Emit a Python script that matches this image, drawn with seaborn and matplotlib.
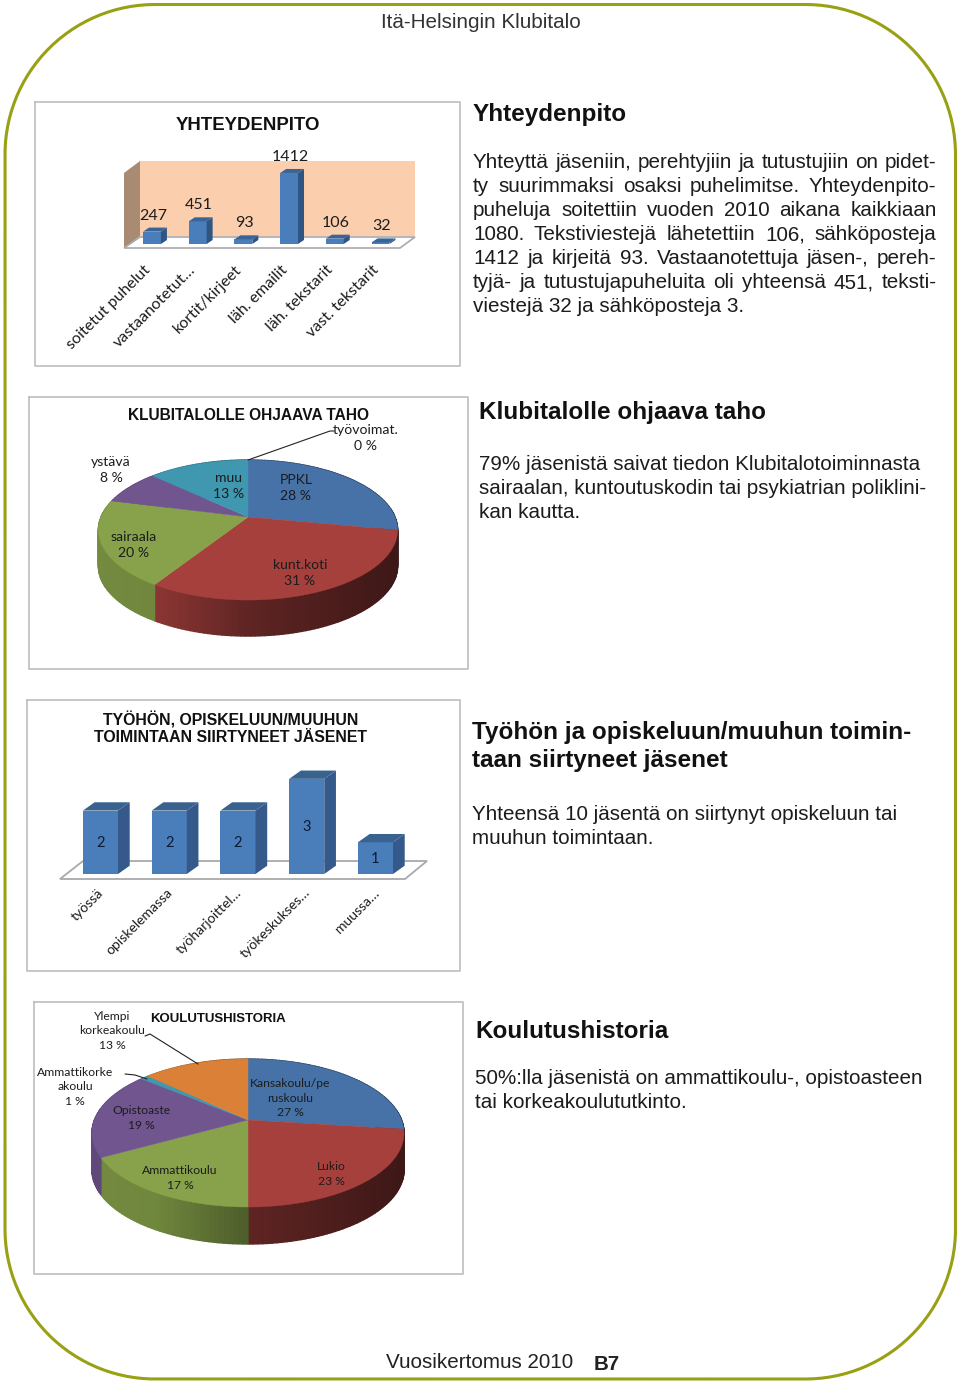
import numpy as np
import pandas as pd
import seaborn as sns
import matplotlib
matplotlib.use('Agg')
import matplotlib.pyplot as plt
from matplotlib.transforms import ScaledTranslation

# Data read from the page
contact_cats = ['soitetut puhelut', 'vastaanotetut…', 'kortit/kirjeet', 'läh. emailit', 'läh. tekstarit', 'vast. tekstarit']
contact_vals = [247, 451, 93, 1412, 106, 32]

moved_cats = ['työssä', 'opiskelemassa', 'työharjoittel…', 'työkeskukses…', 'muussa…']
moved_vals = [2, 2, 2, 3, 1]

referral_labels = ['PPKL', 'kunt.koti', 'sairaala', 'ystävä', 'muu', 'työvoimat.']
referral_pct = [28, 31, 20, 8, 13, 0]

school_labels = ['Kansakoulu/pe\nruskoulu', 'Lukio', 'Ammattikoulu', 'Opistoaste', 'Ammattikorke\nakoulu', 'Ylempi\nkorkeakoulu']
school_pct = [27, 23, 17, 19, 1, 13]

contact_text = ['Yhteyttä jäseniin, perehtyjiin ja tutustujiin on pidet-',
                'ty suurimmaksi osaksi puhelimitse. Yhteydenpito-',
                'puheluja soitettiin vuoden 2010 aikana kaikkiaan',
                '1080. Tekstiviestejä lähetettiin 106, sähköposteja',
                '1412 ja kirjeitä 93. Vastaanotettuja jäsen-, pereh-',
                'tyjä- ja tutustujapuheluita oli yhteensä 451, teksti-']
contact_last = 'viestejä 32 ja sähköposteja 3.'

sns.set_theme(style='white')
plt.rcParams['font.family'] = ['Liberation Sans', 'DejaVu Sans']

W, H = 960, 1383
BODY = 14.85
HEAD = 17.45
CHART = 'Lato'
INK = '#1c1c1c'
GREY = '#BDBDBD'
OLIVE = '#98A014'
pie_colors = sns.color_palette(['#4672A8', '#A6403D', '#87A24A', '#71558F', '#3F97B0', '#DA8137'])

fig = plt.figure(figsize=(W / 100, H / 100), dpi=100)
page = fig.add_axes([0, 0, 1, 1])
page.set_xlim(0, W)
page.set_ylim(H, 0)
page.axis('off')


def inset(x, y, w, h):
    ax = fig.add_axes([x / W, 1 - (y + h) / H, w / W, h / H])
    ax.patch.set_alpha(0)
    return ax


def box(x0, y0, x1, y1):
    page.plot([x0, x1, x1, x0, x0], [y0, y0, y1, y1, y0], color=GREY, lw=1.2, zorder=1)


def page_frame(x0, y0, x1, y1, r):
    t = np.linspace(0, np.pi / 2, 60)
    xs = np.r_[x1 - r + r * np.sin(t), x1 - r + r * np.cos(t), x0 + r - r * np.sin(t), x0 + r - r * np.cos(t)]
    ys = np.r_[y0 + r - r * np.cos(t), y1 - r + r * np.sin(t), y1 - r + r * np.cos(t), y0 + r - r * np.sin(t)]
    page.plot(np.r_[xs, xs[0]], np.r_[ys, ys[0]], color=OLIVE, lw=2.2, zorder=1)


def justified(words, x0, x1, y):
    # places the words one by one so the line fills the column
    rend = fig.canvas.get_renderer()
    items = [page.text(x0, y, w, fontsize=BODY, color=INK, va='center') for w in words.split(' ')]
    widths = [t.get_window_extent(rend).width for t in items]
    gap = (x1 - x0 - sum(widths)) / (len(items) - 1)
    x = x0
    for t, w in zip(items, widths):
        t.set_x(x)
        x += w + gap


def bars_3d(ax, dx_px, dy_px, side, top):
    bb = ax.get_window_extent()
    x0, x1 = ax.get_xlim()
    y0, y1 = ax.get_ylim()
    dx = dx_px * (x1 - x0) / bb.width
    dy = dy_px * (y1 - y0) / bb.height
    for p in ax.patches[:]:
        l, w, h = p.get_x(), p.get_width(), p.get_height()
        r = l + w
        ax.fill([r, r + dx, r + dx, r], [0, dy, h + dy, h], color=side, lw=0, clip_on=False)
        ax.fill([l, l + dx, r + dx, r], [h, h + dy, h + dy, h], color=top, lw=0, clip_on=False)


def bar_chart(rect, cats, vals, top_val, width, fs, pad, shift):
    ax = inset(*rect)
    df = pd.DataFrame({'cat': cats, 'val': vals})
    sns.barplot(data=df, x='cat', y='val', color='#4A7EBB', saturation=1, width=width, linewidth=0, ax=ax)
    ax.set_xlim(-0.5, len(cats) - 0.5)
    ax.set_ylim(0, top_val)
    ax.set(xlabel='', ylabel='', yticks=[])
    ax.set_xticks(range(len(cats)))
    ax.set_xticklabels(cats, rotation=45, ha='right', rotation_mode='anchor', family=CHART, fontsize=fs, color=INK)
    ax.tick_params(axis='x', length=0, pad=pad)
    move = ScaledTranslation(shift / 100, 0, fig.dpi_scale_trans)
    for lab in ax.get_xticklabels():
        lab.set_transform(lab.get_transform() + move)
    sns.despine(ax=ax, left=True, bottom=True)
    return ax


def pie_3d(shares, colors, cx, cy, b, a, k, depth):
    # tilted pie: circle points go through a small perspective so the apex sits above the middle
    def project(theta):
        s, c = np.cos(theta), np.sin(theta)
        den = 1 + k * s
        return cx + b * c / den, cy - a * s / den

    edges = np.r_[0, np.cumsum(shares)] / sum(shares) * 2 * np.pi
    for lo, hi, col in zip(edges[:-1], edges[1:], colors):
        steps = max(2, int((hi - lo) / np.radians(1.5)))
        th = np.linspace(lo, hi, steps + 1)
        xs, ys = project(th)
        for i in range(steps):
            u = ((xs[i] + xs[i + 1]) / 2 - cx) / b
            f = np.interp(u, [-1, -0.6, 0, 1], [0.85, 0.83, 0.57, 0.37])
            shade = tuple(np.array(col) * f)
            page.fill([xs[i], xs[i + 1], xs[i + 1], xs[i]],
                      [ys[i], ys[i + 1], ys[i + 1] + depth, ys[i] + depth],
                      color=shade, lw=1.0, zorder=2)
    for lo, hi, col in zip(edges[:-1], edges[1:], colors):
        if hi <= lo:
            continue
        th = np.linspace(lo, hi, 120)
        xs, ys = project(th)
        page.fill(np.r_[cx, xs], np.r_[cy, ys], color=col, lw=0.3, zorder=3)


def pie_label(x, y, label, pct, fs=10.1):
    page.text(x, y, f'{label}\n{pct} %', family=CHART, fontsize=fs, color=INK, ha='center', va='center',
              linespacing=1.4, zorder=5)


def title(x, y, s, fs, ha='center'):
    page.text(x, y, s, fontsize=fs, fontweight='bold', color='#111111', ha=ha, va='center', zorder=5)


def body(x, y, s):
    page.text(x, y, s, fontsize=BODY, color=INK, va='center')


page_frame(5, 4.5, 955.5, 1379, 150)
page.text(481, 22, 'Itä-Helsingin Klubitalo', fontsize=14.9, color='#333333', ha='center', va='center')
page.text(386, 1362, 'Vuosikertomus 2010', fontsize=14.9, color='#222222', va='center')
page.text(594, 1364, 'B7', fontsize=14.8, fontweight='bold', color='#222222', va='center')

box(35, 102, 460, 366)
box(29, 397, 468, 669)
box(27, 700, 460, 971)
box(34, 1002, 463, 1274)

# --- yhteydenpito ---
title(248, 126, 'YHTEYDENPITO', 13.45)
page.fill([140, 415, 415, 140], [161, 161, 236, 236], color='#FBCFAE', lw=0, zorder=1)
page.fill([124, 140, 140, 124], [173, 161, 236, 248], color='#A98B74', lw=0, zorder=1)
page.fill([124, 140, 415, 400], [248, 237, 237, 248], facecolor='white', edgecolor='#A9A9A9', lw=1.2, zorder=1)

ax1 = bar_chart((129.15, 163.5, 274.2, 80.5), contact_cats, contact_vals, 1600, 0.39, 11.5, 13.5, -9)
bars_3d(ax1, 6, 4, '#2F5583', '#3A6397')
for i, v in enumerate(contact_vals):
    ax1.annotate(str(v), (i, v), xytext=(1, 16), textcoords='offset pixels', family=CHART, fontsize=11.5,
                 color=INK, ha='center', va='center', annotation_clip=False)

title(473, 115, 'Yhteydenpito', HEAD, ha='left')
for n, line in enumerate(contact_text):
    justified(line, 473, 936.5, 163 + 24 * n)
body(473, 307, contact_last)

# --- ohjaava taho ---
title(248, 416, 'KLUBITALOLLE OHJAAVA TAHO', 11.2)
pie_3d(referral_pct, pie_colors, 248, 517, 147, 67.6, 0.186, 36)
page.plot([248, 330, 334], [460, 431, 431], color='#222222', lw=0.8, zorder=4)
for (x, y), lab, pct in zip([(296, 488), (300, 573), (134, 545), (111, 470), (229, 486), (366, 438)],
                            referral_labels, referral_pct):
    pie_label(x, y, lab, pct)

title(479, 413, 'Klubitalolle ohjaava taho', HEAD, ha='left')
for y, line in zip([465, 489, 513], ['79% jäsenistä saivat tiedon Klubitalotoiminnasta',
                                     'sairaalan, kuntoutuskodin tai psykiatrian poliklini-',
                                     'kan kautta.']):
    body(479, y, line)

# --- siirtyneet ---
title(231, 720, 'TYÖHÖN, OPISKELUUN/MUUHUN', 11.4)
title(231, 738, 'TOIMINTAAN SIIRTYNEET JÄSENET', 11.4)
page.fill([60, 83, 427, 405], [879, 861, 861, 879], facecolor='white', edgecolor='#A9A9A9', lw=1.3, zorder=1)

ax3 = bar_chart((66.1, 763, 343.75, 111), moved_cats, moved_vals, 3.5, 0.51, 10.1, 9, -3)
bars_3d(ax3, 11.7, 8.3, '#34598A', '#3A628F')
for i, v in enumerate(moved_vals):
    ax3.annotate(str(v), (i, v / 2), xytext=(0, -1), textcoords='offset pixels', family=CHART, fontsize=10.5,
                 color='#0d1a33', ha='center', va='center')

title(472, 733, 'Työhön ja opiskeluun/muuhun toimin-', HEAD, ha='left')
title(472, 761, 'taan siirtyneet jäsenet', HEAD, ha='left')
body(472, 814, 'Yhteensä 10 jäsentä on siirtynyt opiskeluun tai')
body(472, 838, 'muuhun toimintaan.')

# --- koulutushistoria ---
title(218, 1019, 'KOULUTUSHISTORIA', 9.5)
pie_3d(school_pct, pie_colors, 248, 1120, 153.6, 71.7, 0.176, 37)
page.plot([145, 150, 198], [1036, 1034, 1064], color='#222222', lw=0.8, zorder=4)
page.plot([125, 135, 147], [1074, 1075, 1079], color='#222222', lw=0.8, zorder=4)
for (x, y), lab, pct in zip([(290, 1098), (331, 1174), (180, 1178), (141, 1118), (75, 1087), (112, 1031)],
                            school_labels, school_pct):
    pie_label(x, y, lab, pct, fs=8.7)

title(475, 1031, 'Koulutushistoria', HEAD, ha='left')
for y, line in zip([1079, 1103], ['50%:lla jäsenistä on ammattikoulu-, opistoasteen',
                                  'tai korkeakoulututkinto.']):
    body(475, y, line)

fig.savefig('out.png', dpi=100)
